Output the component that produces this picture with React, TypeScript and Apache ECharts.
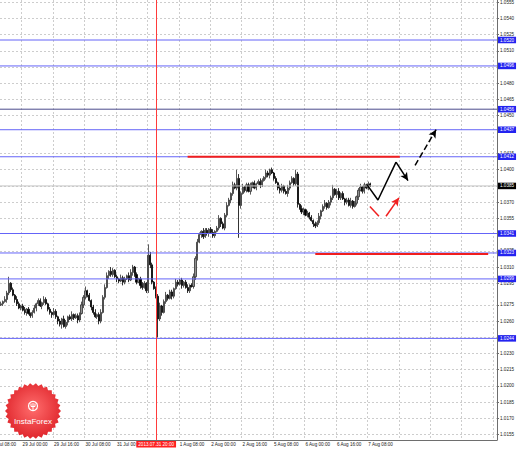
import React, { useEffect, useRef } from 'react';
import * as echarts from 'echarts';

// Hourly bars: n = bars since 29 Jul 00:00 (first bar n = -11, 26 Jul 13:00)
const firstBar = -11;
const lastCategory = 241;
const firstOpen = 275; // pips above 1.0000
const closes = [
  276, 278, 280, 286, 295, 289, 284, 280, 276, 272,
  274, 270, 268, 271, 267, 265, 268, 272, 276, 279,
  274, 277, 280, 276, 271, 268, 266, 269, 264, 260,
  257, 262, 255, 259, 264, 262, 266, 263, 265, 261,
  267, 275, 282, 288, 284, 279, 273, 268, 264, 266,
  260, 268, 282, 291, 302, 306, 303, 307, 301, 299,
  297, 300, 296, 299, 302, 298, 305, 310, 303, 296,
  299, 293, 291, 295, 288, 321, 312, 296, 290, 283,
  262, 274, 268, 278, 284, 281, 287, 283, 290, 296,
  294, 298, 293, 296, 291, 288, 293, 292, 301, 318,
  333, 340, 343, 338, 344, 341, 345, 342, 339, 343,
  346, 355, 350, 346, 358, 367, 372, 378, 386, 383,
  392, 367, 378, 384, 381, 386, 380, 385, 388, 383,
  387, 389, 386, 390, 393, 397, 395, 400, 397, 392,
  388, 383, 381, 385, 380, 378, 383, 388, 392, 387,
  396, 368, 364, 361, 363, 358, 360, 356, 353, 350,
  348, 351, 357, 362, 366, 369, 365, 370, 374, 382,
  377, 380, 374, 378, 373, 370, 372, 367, 371, 366,
  369, 375, 381, 384, 380, 386, 383, 387, 385,
];
const upWicks = [
  2, 1, 3, 2, 6, 1, 2, 1, 3, 2,
  1, 2, 3, 1, 2, 1, 2, 3, 1, 2,
  2, 1, 3, 2, 1, 2, 1, 3, 2, 1,
  2, 1, 3, 2, 1, 2, 3, 1, 2, 2,
  1, 3, 2, 4, 1, 2, 1, 2, 3, 1,
  2, 3, 2, 3, 3, 1, 4, 2, 1, 2,
  1, 3, 2, 2, 1, 3, 3, 2, 1, 2,
  1, 2, 3, 2, 1, 10, 3, 2, 1, 2,
  2, 3, 1, 2, 3, 1, 2, 2, 1, 3,
  2, 1, 2, 1, 2, 3, 1, 2, 3, 2,
  3, 2, 1, 3, 2, 2, 1, 2, 3, 1,
  2, 3, 1, 2, 2, 3, 2, 1, 3, 2,
  8, 4, 2, 3, 1, 2, 2, 3, 1, 2,
  1, 2, 3, 2, 1, 3, 2, 1, 2, 1,
  2, 1, 3, 2, 1, 2, 3, 2, 2, 1,
  4, 2, 1, 3, 2, 1, 2, 1, 2, 1,
  2, 2, 3, 1, 2, 3, 1, 2, 2, 4,
  1, 2, 3, 1, 2, 1, 2, 2, 3, 1,
  2, 1, 2, 3, 1, 2, 1, 2, 1,
];
const downWicks = [
  1, 2, 1, 3, 2, 2, 1, 3, 2, 1,
  2, 1, 2, 3, 1, 2, 2, 1, 3, 2,
  1, 3, 2, 1, 2, 2, 3, 1, 2, 3,
  2, 4, 1, 2, 3, 1, 2, 2, 1, 3,
  2, 1, 3, 2, 2, 1, 3, 2, 1, 2,
  3, 2, 1, 2, 1, 3, 2, 2, 1, 3,
  2, 1, 3, 2, 1, 2, 1, 3, 2, 2,
  1, 3, 2, 1, 2, 2, 3, 2, 1, 2,
  17, 2, 3, 1, 2, 2, 1, 3, 2, 1,
  2, 1, 3, 2, 1, 2, 2, 1, 2, 3,
  2, 1, 3, 2, 1, 2, 3, 1, 2, 2,
  1, 2, 3, 1, 2, 2, 1, 3, 2, 1,
  2, 30, 3, 1, 2, 2, 1, 3, 2, 1,
  2, 1, 3, 2, 1, 2, 2, 3, 1, 2,
  1, 2, 3, 2, 2, 1, 3, 2, 1, 2,
  2, 3, 1, 2, 3, 1, 2, 2, 1, 3,
  2, 1, 2, 3, 1, 2, 2, 1, 3, 2,
  1, 3, 2, 2, 1, 3, 2, 1, 2, 2,
  1, 2, 3, 1, 2, 2, 1, 2, 1,
];

const yTicks = [
  1.0555, 1.054, 1.0525, 1.051, 1.0495, 1.048, 1.0465, 1.045, 1.0415,
  1.04, 1.0385, 1.037, 1.0355, 1.0325, 1.031, 1.0295, 1.0275, 1.026,
  1.0245, 1.023, 1.0215, 1.02, 1.0185, 1.017, 1.0155,
];
const timeTicks: [number, string][] = [
  [0, '29 Jul 00:00'], [16, '29 Jul 16:00'], [32, '30 Jul 08:00'], [48, '31 Jul 00:00'],
  [80, '1 Aug 08:00'], [96, '2 Aug 00:00'], [112, '2 Aug 16:00'], [128, '5 Aug 08:00'],
  [144, '6 Aug 00:00'], [160, '6 Aug 16:00'], [176, '7 Aug 08:00'],
];
const cutTickLabel = '26 Jul 08:00';

const blueLevels = [1.052, 1.0496, 1.0437, 1.0412, 1.0341, 1.0323, 1.0299, 1.0244];
const darkLevel = 1.0456;
const currentPrice = 1.0385;
const crossBar = 68;
const crossLabel = '2013.07.31 20:00';
const redLevels = [
  { from: 84, to: 192, price: 1.0412 },
  { from: 149, to: 237, price: 1.0322 },
];
const blackPath: [number, number][] = [[175.4, 1.0386], [180.9, 1.0372], [190.1, 1.0407], [196.2, 1.039]];
const blackDashed: [number, number][] = [[199.8, 1.0404], [210.5, 1.0437]];
const redDash: [number, number][] = [[176.8, 1.0366], [181.4, 1.0357]];
const redArrow: [number, number][] = [[185, 1.0357], [191.6, 1.0374]];

const FONT = 'Liberation Sans, Arial, sans-serif';
const FS = 4.6;
const X_MIN = -11.5;
const X_MAX = 241.5;

export default function App() {
  const ref = useRef<HTMLDivElement>(null);
  useEffect(() => {
    document.body.style.margin = '0';
    const el = ref.current!;
    const chart = echarts.init(el, null, { renderer: 'svg' });

    const categories: string[] = [];
    for (let n = firstBar; n <= lastCategory; n++) categories.push(String(n));
    const candles = closes.map((c, i) => {
      const o = i === 0 ? firstOpen : closes[i - 1];
      const hi = Math.max(o, c) + upWicks[i];
      const lo = Math.min(o, c) - downWicks[i];
      return [o, c, lo, hi].map((v) => +(1 + v / 10000).toFixed(4));
    });
    const tickMap: Record<string, string> = {};
    timeTicks.forEach(([n, s]) => (tickMap[String(n)] = s));

    const levelSeries = (v: number, color: string, boxColor: string) => ({
      type: 'line',
      xAxisIndex: 1,
      yAxisIndex: 0,
      data: [[X_MIN, v], [X_MAX, v]],
      symbol: 'none',
      silent: true,
      z: 3,
      lineStyle: { color, width: 1, type: 'solid' },
      endLabel: {
        show: true,
        distance: 1,
        formatter: v.toFixed(4),
        backgroundColor: boxColor,
        color: '#fff',
        fontSize: FS,
        fontFamily: FONT,
        padding: [1, 2, 0.5, 2],
      },
    });

    const arrowMark = (pts: [number, number][], color: string, type: string) => ({
      silent: true,
      animation: false,
      precision: 4,
      symbol: ['none', 'arrow'],
      symbolSize: [6, 8],
      lineStyle: { color, width: 1.5, type },
      label: { show: false },
      data: [[{ coord: pts[0] }, { coord: pts[1] }]],
    });

    const teeth = 30;
    const badge: number[][] = [];
    for (let k = 0; k < teeth * 2; k++) {
      const r = k % 2 === 0 ? 28 : 25.5;
      const a = (Math.PI * k) / teeth;
      badge.push([33 + r * Math.cos(a), 411 + r * Math.sin(a)]);
    }

    const series: any[] = [
      {
        type: 'candlestick',
        data: candles,
        barWidth: 1.6,
        silent: true,
        itemStyle: { color: '#909090', color0: '#000', borderColor: '#303030', borderColor0: '#000', borderWidth: 0.8 },
        markLine: {
          silent: true,
          animation: false,
          precision: 4,
          symbol: ['none', 'none'],
          data: [
            {
              xAxis: String(crossBar),
              lineStyle: { color: '#ff3b3b', width: 1, type: 'solid' },
              label: {
                show: true, position: 'start', distance: 1, formatter: crossLabel, backgroundColor: '#ff1f1f',
                color: '#fff', fontSize: FS, fontFamily: FONT, padding: [1, 2, 0.5, 2],
              },
            },
          ],
        },
        z: 2,
      },
    ];
    blueLevels.forEach((v) => series.push(levelSeries(v, '#6464f8', '#2323f0')));
    series.push(levelSeries(darkLevel, '#4a4a8c', '#2323f0'));
    series.push(levelSeries(currentPrice, '#c4c4c4', '#000000'));
    redLevels.forEach((r) =>
      series.push({
        type: 'line', xAxisIndex: 1, yAxisIndex: 0, symbol: 'none', silent: true, z: 4,
        data: [[r.from, r.price], [r.to, r.price]],
        lineStyle: { color: '#f01e1e', width: 2, type: 'solid' },
      })
    );
    series.push(
      {
        type: 'line', xAxisIndex: 1, yAxisIndex: 0, data: blackPath.slice(0, 3), symbol: 'none', silent: true,
        lineStyle: { color: '#000', width: 1.5 }, z: 6,
        markLine: arrowMark([blackPath[2], blackPath[3]], '#000', 'solid'),
      },
      {
        type: 'line', xAxisIndex: 1, yAxisIndex: 0, data: blackDashed, symbol: 'none', silent: true,
        lineStyle: { opacity: 0 }, z: 6,
        markLine: arrowMark(blackDashed, '#000', 'dashed'),
      },
      {
        type: 'line', xAxisIndex: 1, yAxisIndex: 0, data: redDash, symbol: 'none', silent: true,
        lineStyle: { color: '#f02020', width: 1.5 }, z: 6,
      },
      {
        type: 'line', xAxisIndex: 1, yAxisIndex: 0, data: redArrow, symbol: 'none', silent: true,
        lineStyle: { opacity: 0 }, z: 6,
        markLine: arrowMark(redArrow, '#f02020', 'solid'),
      }
    );

    const option: any = {
      animation: false,
      backgroundColor: '#ffffff',
      grid: { left: 0, right: 21, top: 0, bottom: 10, containLabel: false, outerBoundsMode: 'none' },
      xAxis: [
        {
          type: 'category',
          data: categories,
          boundaryGap: true,
          axisLine: { show: true, onZero: false, lineStyle: { color: '#6e6e6e', width: 1 } },
          axisTick: { show: false },
          axisLabel: {
            interval: (_i: number, v: string) => v in tickMap,
            formatter: (v: string) => tickMap[v] || '',
            align: 'left',
            margin: 2,
            fontSize: FS,
            fontFamily: FONT,
            color: '#222',
          },
          splitLine: {
            show: true,
            interval: (_i: number, v: string) => Number(v) % 16 === 0,
            lineStyle: { color: '#cdcdcd', type: [2, 2], width: 1 },
          },
        },
        { type: 'value', min: X_MIN, max: X_MAX, show: false },
      ],
      yAxis: {
        type: 'value',
        position: 'right',
        min: 1.015,
        max: 1.0557,
        axisLine: { show: true, onZero: false, lineStyle: { color: '#6e6e6e', width: 1 } },
        axisTick: { show: true, length: 2, customValues: yTicks, lineStyle: { color: '#6e6e6e' } },
        axisLabel: {
          customValues: yTicks,
          formatter: (v: number) => v.toFixed(4),
          margin: 3,
          fontSize: FS,
          fontFamily: FONT,
          color: '#222',
        },
        splitLine: { show: true, lineStyle: { color: '#cdcdcd', type: [2, 2], width: 1 } },
      },
      series,
      graphic: [
        {
          type: 'text', left: -9, top: 441.5, silent: true,
          style: { text: cutTickLabel, fontSize: FS, fontFamily: FONT, fill: '#222' },
        },
        {
          type: 'polygon', silent: true, z: 100,
          shape: { points: badge },
          style: {
            fill: new echarts.graphic.RadialGradient(0.5, 0.45, 0.55, [
              { offset: 0, color: '#ff6d6d' },
              { offset: 1, color: '#e0262c' },
            ]),
          },
        },
        {
          type: 'circle', silent: true, z: 101,
          shape: { cx: 33, cy: 406, r: 4.5 },
          style: { fill: 'none', stroke: '#fff', lineWidth: 1.2 },
        },
        {
          type: 'polyline', silent: true, z: 101,
          shape: { points: [[31, 403.5], [31, 406.5], [35, 406.5], [35, 403.5]] },
          style: { fill: 'none', stroke: '#fff', lineWidth: 1 },
        },
        {
          type: 'line', silent: true, z: 101,
          shape: { x1: 33, y1: 403, x2: 33, y2: 410.5 },
          style: { stroke: '#fff', lineWidth: 1 },
        },
        {
          type: 'text', silent: true, z: 101, x: 33, y: 421,
          style: { text: 'InstaForex', fontSize: 8, fontFamily: FONT, fill: '#fff', align: 'center', verticalAlign: 'middle' },
        },
      ],
    };
    chart.setOption(option);
    return () => chart.dispose();
  }, []);
  return <div ref={ref} style={{ width: 518, height: 450 }} />;
}
